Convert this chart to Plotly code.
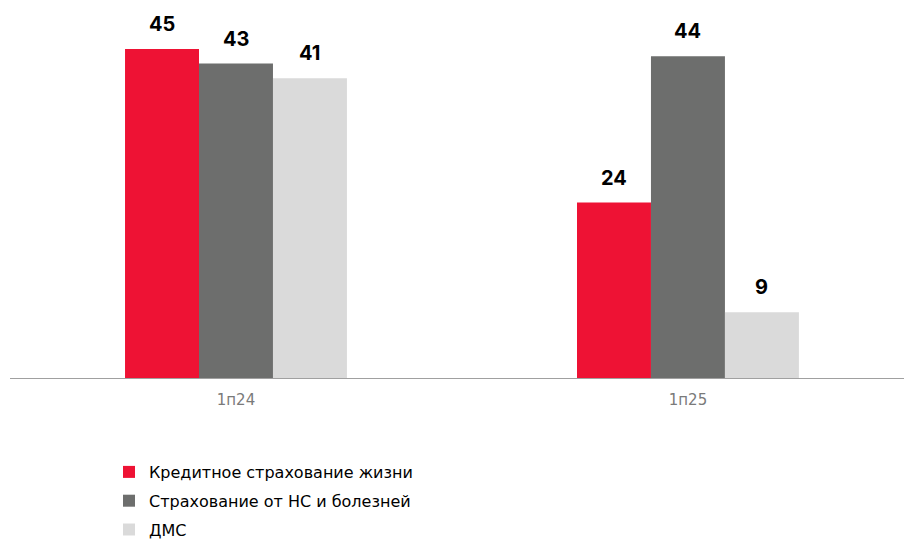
import plotly.graph_objects as go

categories = ["1п24", "1п25"]
series_names = ["Кредитное страхование жизни", "Страхование от НС и болезней", "ДМС"]
credit_life = [45, 24]
accident = [43, 44]
dms = [41, 9]
colors = ["#EE1234", "#6D6E6D", "#DADADA"]

W, H = 904, 539
ML, MR, MT, MB = 10, 0, 10, 161
XRANGE = [-0.5, 1.478]
BARGAP = 0.509

fig = go.Figure()
all_vals = [credit_life, accident, dms]
for i, (name, vals) in enumerate(zip(series_names, all_vals)):
    fig.add_trace(go.Bar(
        x=categories, y=vals, name=name,
        marker=dict(color=colors[i], line=dict(width=0)),
        legendgroup=str(i),
    ))

# value labels above bars
plot_w = W - ML - MR
px_per_cat = plot_w / (XRANGE[1] - XRANGE[0])
bar_w = px_per_cat * (1 - BARGAP) / 3
for i, vals in enumerate(all_vals):
    for c, v in zip(categories, vals):
        fig.add_annotation(
            x=c, y=v, xref="x", yref="y", text=f"<b>{v}</b>", showarrow=False,
            xshift=(i - 1) * bar_w, yshift=11, yanchor="bottom",
            font=dict(family="Inter", size=20, color="#000000"),
        )

fig.update_layout(
    width=W, height=H,
    margin=dict(l=ML, r=MR, t=MT, b=MB, autoexpand=False),
    paper_bgcolor="white", plot_bgcolor="white",
    barmode="group", bargap=BARGAP, bargroupgap=0,
    font=dict(family="DejaVu Sans", color="#000000"),
    xaxis=dict(type="category", range=XRANGE, showgrid=False,
               showline=True, linecolor="#A0A0A0", linewidth=1,
               ticks="", tickfont=dict(size=15, color="#7A7A7A"), ticklabelstandoff=8),
    yaxis=dict(range=[0, 50.33], visible=False),
    showlegend=True,
    legend=dict(orientation="v", x=(109 - ML) / plot_w, y=(378 - 455) / 368,
                xanchor="left", yanchor="top",
                font=dict(size=16, color="#000000"), tracegroupgap=5,
                itemwidth=30, bgcolor="rgba(0,0,0,0)"),
)
fig.write_html("out.html")
